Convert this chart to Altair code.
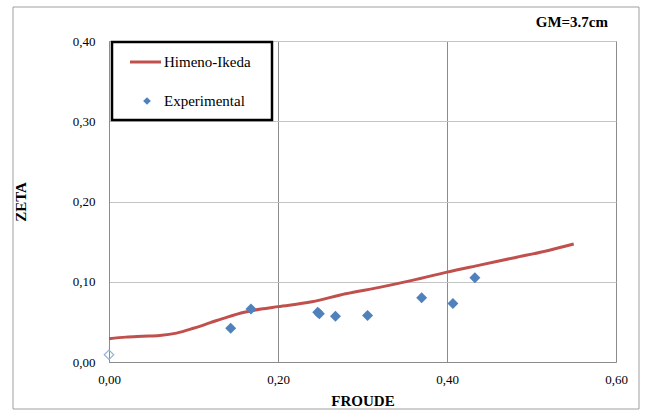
import altair as alt
import pandas as pd

# Himeno-Ikeda roll damping prediction
froude_model = [0.00, 0.02, 0.04, 0.06, 0.08, 0.10, 0.12, 0.14, 0.16, 0.18, 0.20,
                0.24, 0.28, 0.32, 0.36, 0.40, 0.44, 0.48, 0.52, 0.55]
zeta_model = [0.029, 0.031, 0.032, 0.033, 0.036, 0.042, 0.049, 0.056, 0.062, 0.066, 0.069,
              0.075, 0.085, 0.093, 0.102, 0.112, 0.121, 0.130, 0.139, 0.147]

# Experimental measurements
froude_exp = [0.144, 0.168, 0.247, 0.249, 0.268, 0.306, 0.370, 0.407, 0.433]
zeta_exp = [0.042, 0.066, 0.062, 0.060, 0.057, 0.058, 0.080, 0.073, 0.105]

# Zero-speed measurement (hollow marker)
froude_zero = [0.0]
zeta_zero = [0.009]

x_ticks = [0.0, 0.2, 0.4, 0.6]
y_ticks = [0.0, 0.1, 0.2, 0.3, 0.4]

RED = "#c0504d"
BLUE = "#4f81bd"
LIGHT_BLUE = "#95b3d7"
FONT = "'Liberation Serif', 'Times New Roman', serif"

W, H = 507, 321
LEFT, TOP = 109, 41

model_df = pd.DataFrame({"froude": froude_model, "zeta": zeta_model})
exp_df = pd.DataFrame({"froude": froude_exp, "zeta": zeta_exp})
zero_df = pd.DataFrame({"froude": froude_zero, "zeta": zeta_zero})

comma = "replace(format(datum.value, '.2f'), '.', ',')"

x_enc = alt.X(
    "froude:Q",
    scale=alt.Scale(domain=[0, 0.6], nice=False),
    axis=alt.Axis(values=x_ticks, labelExpr=comma, title="FROUDE", ticks=False,
                  labelPadding=11, titlePadding=7, gridColor="#8c8c8c",
                  domainColor="#8c8c8c", labelFlush=False,
                  labelFont=FONT, titleFont=FONT),
)
y_enc = alt.Y(
    "zeta:Q",
    scale=alt.Scale(domain=[0, 0.4], nice=False),
    axis=alt.Axis(values=y_ticks, labelExpr=comma, title="ZETA", ticks=False,
                  labelPadding=14, titlePadding=44, gridColor="#c4c4c4",
                  domainColor="#8c8c8c", labelFont=FONT, titleFont=FONT),
)

line = alt.Chart(model_df).mark_line(
    color=RED, strokeWidth=3, interpolate="monotone"
).encode(x=x_enc, y=y_enc)

points = alt.Chart(exp_df).mark_point(
    shape="diamond", filled=True, color=BLUE, size=120, opacity=1
).encode(x="froude:Q", y="zeta:Q")

zero = alt.Chart(zero_df).mark_point(
    shape="diamond", filled=False, color=LIGHT_BLUE, size=90, strokeWidth=1.2, opacity=1
).encode(x="froude:Q", y="zeta:Q")

# Outer frame of the chart
frame = alt.Chart(pd.DataFrame({"k": [0]})).mark_rect(
    fill=None, stroke="#a0a0a0", strokeWidth=1
).encode(x=alt.value(13 - LEFT), x2=alt.value(639 - LEFT),
         y=alt.value(7 - TOP), y2=alt.value(409 - TOP))

# Legend box
leg_box = alt.Chart(pd.DataFrame({"k": [0]})).mark_rect(
    fill="white", stroke="black", strokeWidth=2.5
).encode(x=alt.value(112 - LEFT), x2=alt.value(272 - LEFT),
         y=alt.value(42 - TOP), y2=alt.value(120 - TOP))

leg_line = alt.Chart(pd.DataFrame({"k": [0]})).mark_rule(
    color=RED, strokeWidth=3
).encode(x=alt.value(130 - LEFT), x2=alt.value(161 - LEFT), y=alt.value(62 - TOP))

leg_point = alt.Chart(pd.DataFrame({"k": [0]})).mark_point(
    shape="diamond", filled=True, color=BLUE, size=60, opacity=1
).encode(x=alt.value(147 - LEFT), y=alt.value(101 - TOP))

leg_text = alt.Chart(pd.DataFrame({
    "label": ["Himeno-Ikeda", "Experimental"],
    "py": [62 - TOP, 101 - TOP],
})).mark_text(
    align="left", baseline="middle", font=FONT, fontSize=15, color="black"
).encode(x=alt.value(164 - LEFT), y=alt.Y("py:Q", scale=None), text="label:N")

gm_text = alt.Chart(pd.DataFrame({"label": ["GM=3.7cm"]})).mark_text(
    align="right", baseline="middle", font=FONT, fontSize=15, fontWeight="bold",
    color="black"
).encode(x=alt.value(608 - LEFT), y=alt.value(22 - TOP), text="label:N")

chart = alt.layer(
    frame, line, points, zero, leg_box, leg_line, leg_point, leg_text, gm_text
).properties(
    width=W, height=H,
    autosize=alt.AutoSizeParams(type="none"),
    padding={"left": LEFT, "top": TOP, "right": 645 - LEFT - W, "bottom": 412 - TOP - H},
    background="white",
).configure_view(
    stroke="#8c8c8c", strokeWidth=1
).configure_axis(
    labelFontSize=13, labelColor="black",
    titleFontSize=15, titleFontWeight="bold", titleColor="black",
    gridWidth=1,
)

chart.save("out.html", embed_options={"renderer": "svg", "actions": False})
